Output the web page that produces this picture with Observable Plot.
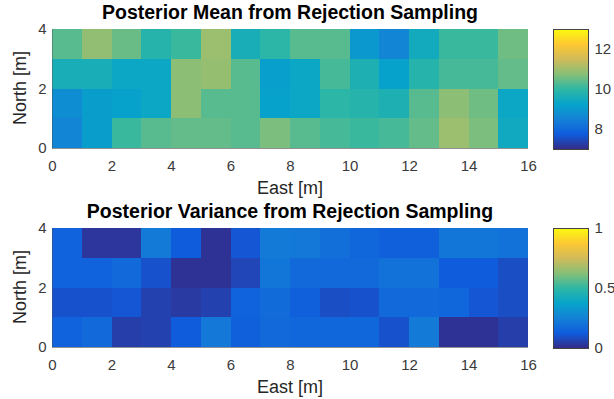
<!DOCTYPE html>
<html>
<head>
<meta charset="utf-8">
<script src="https://cdn.jsdelivr.net/npm/d3@7"></script>
<script src="https://cdn.jsdelivr.net/npm/@observablehq/plot@0.6"></script>
<style>
  html, body { margin: 0; padding: 0; background: #fff; }
  body { width: 614px; height: 399px; position: relative; overflow: hidden;
         font-family: "Liberation Sans", Arial, Helvetica, sans-serif; }
  .panel { position: absolute; left: 0; width: 614px; height: 200px; }
  .panel svg { position: absolute; top: 0; }
  .title { position: absolute; white-space: nowrap; transform: translate(-50%, -50%);
           font-weight: bold; font-size: 19.5px; color: #000; }
  .xlabel { position: absolute; white-space: nowrap; transform: translate(-50%, -50%);
            font-size: 18px; color: #262626; }
  .ylabel { position: absolute; white-space: nowrap; transform: translate(-50%, -50%) rotate(-90deg);
            font-size: 18px; color: #262626; }
</style>
</head>
<body>
<script>
// ---------- data ----------
const eastTicks = [0, 2, 4, 6, 8, 10, 12, 14, 16];
const northTicks = [0, 2, 4];
const nEast = 16, nNorth = 4;

// Posterior mean, rows from north = 3..4 (top) down to north = 0..1 (bottom)
const meanRowN3 = [10.35, 10.85, 10.5, 9.85, 10.1, 10.95, 9.6, 9.95, 10.35, 10.35, 9.0, 8.6, 9.5, 10.1, 10.1, 10.55];
const meanRowN2 = [9.6, 9.6, 9.35, 9.35, 10.8, 10.9, 10.35, 9.15, 9.35, 10.2, 9.7, 9.2, 9.85, 10.2, 10.2, 10.45];
const meanRowN1 = [8.75, 9.1, 9.2, 9.35, 10.8, 10.35, 10.35, 9.2, 9.35, 9.95, 9.85, 9.7, 10.35, 10.8, 10.55, 9.35];
const meanRowN0 = [8.6, 9.1, 10.1, 10.35, 10.45, 10.45, 10.35, 10.65, 10.35, 10.2, 10.1, 10.2, 10.45, 10.95, 10.65, 9.45];
const meanDomain = [7, 13];
const meanTicks = [8, 10, 12];

// Posterior variance
const varRowN3 = [0.15, 0.03, 0.03, 0.23, 0.13, 0.02, 0.11, 0.23, 0.22, 0.19, 0.16, 0.14, 0.14, 0.21, 0.21, 0.2];
const varRowN2 = [0.15, 0.15, 0.17, 0.1, 0.02, 0.02, 0.07, 0.21, 0.17, 0.17, 0.17, 0.2, 0.2, 0.13, 0.13, 0.09];
const varRowN1 = [0.1, 0.1, 0.11, 0.06, 0.04, 0.06, 0.15, 0.18, 0.14, 0.09, 0.1, 0.17, 0.17, 0.16, 0.11, 0.09];
const varRowN0 = [0.15, 0.17, 0.05, 0.06, 0.13, 0.22, 0.14, 0.17, 0.16, 0.16, 0.16, 0.1, 0.23, 0.02, 0.02, 0.05];
const varDomain = [0, 1];
const varTicks = [0, 0.5, 1];

const titles = ["Posterior Mean from Rejection Sampling", "Posterior Variance from Rejection Sampling"];
const xLabel = "East [m]";
const yLabel = "North [m]";

// parula colormap stops
const parula = ["#352a87", "#0f5cdd", "#1481d6", "#06a4ca", "#2eb7a4", "#87bf77", "#d1bb59", "#fec832", "#f9fb0e"];
const parulaInterp = d3.piecewise(d3.interpolateRgb, parula);

// ---------- build ----------
function cellsFrom(rowsTopFirst) {
  const out = [];
  rowsTopFirst.forEach((row, r) => {
    const n = nNorth - 1 - r;
    row.forEach((v, e) => out.push({e, n, v}));
  });
  return out;
}

function panel(rows, domain, cticks, title, top) {
  const div = document.createElement("div");
  div.className = "panel";
  div.style.top = top + "px";
  document.body.appendChild(div);

  const cells = cellsFrom(rows);
  const colorOpt = {type: "linear", domain, interpolate: parulaInterp, clamp: true};

  const main = Plot.plot({
    width: 540, height: 200,
    marginLeft: 52, marginRight: 12, marginTop: 29, marginBottom: 52,
    style: {fontFamily: "'Liberation Sans', Arial, sans-serif", fontSize: "15px", color: "#3a3a3a", background: "transparent"},
    x: {domain: [0, nEast]},
    y: {domain: [0, nNorth]},
    color: colorOpt,
    marks: [
      Plot.rect(cells, {x1: "e", x2: d => d.e + 1, y1: "n", y2: d => d.n + 1, fill: "v", shapeRendering: "crispEdges"}),
      Plot.axisX({ticks: eastTicks, tickSize: 0, tickPadding: 12, label: null, tickFormat: d => d}),
      Plot.axisY({ticks: northTicks, tickSize: 0, tickPadding: 6, label: null, tickFormat: d => d}),
      Plot.ruleY([0], {stroke: "#4a4a4a", strokeOpacity: 0.6}),
      Plot.ruleX([0], {stroke: "#4a4a4a", strokeOpacity: 0.4})
    ]
  });
  main.style.left = "0px";
  div.appendChild(main);

  const step = (domain[1] - domain[0]) / 240;
  const grad = d3.range(240).map(i => domain[0] + i * step);
  const cbar = Plot.plot({
    width: 61, height: 200,
    marginLeft: 0, marginRight: 26, marginTop: 29, marginBottom: 51,
    style: {fontFamily: "'Liberation Sans', Arial, sans-serif", fontSize: "15px", color: "#3a3a3a", background: "transparent", overflow: "visible"},
    x: {domain: [0, 1], axis: null},
    y: {domain},
    color: colorOpt,
    marks: [
      Plot.rect(grad, {x1: 0, x2: 1, y1: d => d, y2: d => d + step * 1.5, fill: d => d + step / 2, shapeRendering: "crispEdges"}),
      Plot.frame({stroke: "#444", strokeWidth: 1}),
      Plot.axisY({anchor: "right", ticks: cticks, tickSize: 0, tickPadding: 6, label: null, tickFormat: d => d})
    ]
  });
  cbar.style.left = "553px";
  div.appendChild(cbar);

  const t = document.createElement("div");
  t.className = "title"; t.textContent = title;
  t.style.left = "290px"; t.style.top = "12px";
  div.appendChild(t);

  const xl = document.createElement("div");
  xl.className = "xlabel"; xl.textContent = xLabel;
  xl.style.left = "290px"; xl.style.top = "188px";
  div.appendChild(xl);

  const yl = document.createElement("div");
  yl.className = "ylabel"; yl.textContent = yLabel;
  yl.style.left = "20px"; yl.style.top = "88px";
  div.appendChild(yl);
}

panel([meanRowN3, meanRowN2, meanRowN1, meanRowN0], meanDomain, meanTicks, titles[0], 0);
panel([varRowN3, varRowN2, varRowN1, varRowN0], varDomain, varTicks, titles[1], 199);
</script>
</body>
</html>
